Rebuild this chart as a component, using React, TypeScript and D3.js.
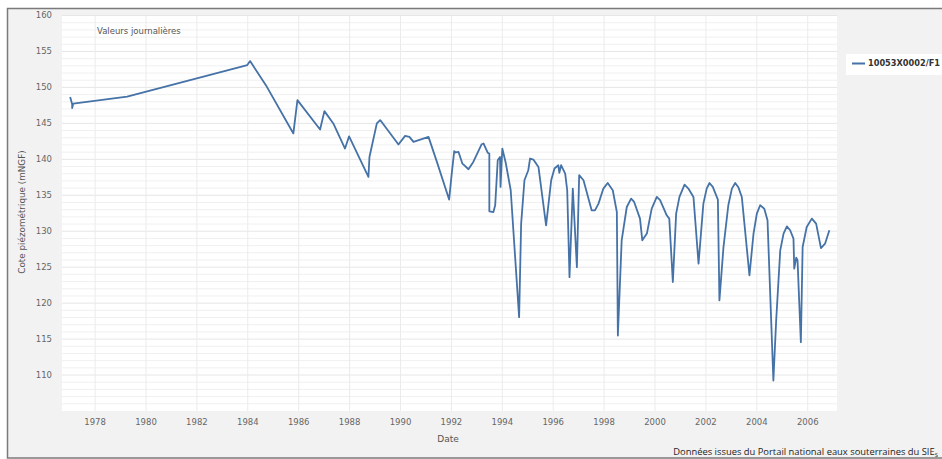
import React from "react";
import * as d3 from "d3";

// Decimal years and piezometric levels (mNGF)
const dates: number[] = [
  1977.02, 1977.10, 1977.10, 1977.14, 1979.26, 1983.98, 1984.09, 1984.75,
  1985.79, 1985.95, 1986.84, 1987.01, 1987.36, 1987.82, 1987.98, 1988.74,
  1988.78, 1989.07, 1989.20, 1989.26, 1989.92, 1990.18, 1990.35, 1990.51,
  1991.10, 1991.43, 1991.91, 1992.02, 1992.11, 1992.17, 1992.28, 1992.43,
  1992.50, 1992.67, 1992.86, 1993.19, 1993.26, 1993.43, 1993.49, 1993.49,
  1993.65, 1993.72, 1993.82, 1993.91, 1993.93, 1994.00, 1994.14, 1994.33,
  1994.66, 1994.74, 1994.87, 1995.02, 1995.09, 1995.22, 1995.42, 1995.72,
  1995.92, 1996.05, 1996.20, 1996.24, 1996.31, 1996.47, 1996.55, 1996.64,
  1996.77, 1996.93, 1997.02, 1997.19, 1997.51, 1997.64, 1997.78, 1997.97,
  1998.14, 1998.34, 1998.50, 1998.54, 1998.69, 1998.89, 1999.06, 1999.18,
  1999.41, 1999.50, 1999.68, 1999.87, 2000.07, 2000.20, 2000.46, 2000.56,
  2000.70, 2000.83, 2000.96, 2001.16, 2001.31, 2001.51, 2001.71, 2001.90,
  2002.03, 2002.14, 2002.27, 2002.47, 2002.53, 2002.69, 2002.88, 2003.02,
  2003.15, 2003.28, 2003.41, 2003.71, 2003.87, 2004.00, 2004.13, 2004.29,
  2004.42, 2004.65, 2004.76, 2004.92, 2005.05, 2005.18, 2005.31, 2005.44,
  2005.47, 2005.55, 2005.60, 2005.73, 2005.80, 2005.96, 2006.16, 2006.33,
  2006.52, 2006.68, 2006.85,
];

const levels: number[] = [
  148.65, 147.67, 147.12, 147.74, 148.72, 153.11, 153.66, 150.08,
  143.6, 148.23, 144.15, 146.7, 144.99, 141.5, 143.2, 137.55,
  140.33, 145.0, 145.45, 145.2, 142.06, 143.26, 143.12, 142.42,
  143.12, 139.64, 134.4, 138.25, 141.13, 140.95, 141.03, 139.41,
  139.18, 138.62, 139.64, 142.1, 142.2, 140.89, 140.81, 132.77,
  132.67, 133.6, 139.87, 140.33, 136.16, 141.5, 139.41, 135.7,
  118.05, 131.06, 137.09, 138.48, 140.11, 139.97, 138.94, 130.82,
  137.09, 138.72, 139.18, 138.11, 139.18, 138.02, 135.7, 123.62,
  135.93, 125.01, 137.79, 137.09, 132.91, 132.91, 133.84, 135.93,
  136.71, 135.7, 132.67, 115.5, 128.73, 133.37, 134.54, 134.07,
  131.75, 128.73, 129.67, 133.15, 134.77, 134.31, 132.22, 131.75,
  122.93, 132.45, 134.77, 136.49, 135.93, 134.77, 125.49, 133.84,
  135.93, 136.71, 136.16, 134.4, 120.38, 127.8, 133.61, 135.93,
  136.71, 136.07, 134.77, 123.86, 129.67, 132.45, 133.61, 133.15,
  131.52, 109.23, 117.59, 127.34, 129.67, 130.68, 130.13, 128.97,
  124.79, 126.32, 125.95, 114.57, 127.8, 130.59, 131.75, 131.05,
  127.66, 128.27, 130.13,
];

const xTicks: number[] = [1978, 1980, 1982, 1984, 1986, 1988, 1990, 1992, 1994, 1996, 1998, 2000, 2002, 2004, 2006];
const yTicks: number[] = [110, 115, 120, 125, 130, 135, 140, 145, 150, 155, 160];
const yMinorTicks: number[] = d3.range(106, 160, 1);

const seriesName = "10053X0002/F1";
const subtitle = "Valeurs journalières";
const yTitle = "Cote piézométrique (mNGF)";
const xTitle = "Date";
const credits = "Données issues du Portail national eaux souterraines du SIE";

export default function App() {
  const W = 942;
  const H = 459;
  const left = 62, right = 837, top = 15.5, bottom = 411;
  const x = d3.scaleLinear().domain([1976.70, 2007.15]).range([left, right]);
  const y = d3.scaleLinear().domain([105, 160]).range([bottom, top]);
  const pts = dates.map((d, i) => [d, levels[i]] as [number, number]);
  const line = d3.line<[number, number]>().x((d) => x(d[0])).y((d) => y(d[1]));
  const font = "'DejaVu Sans', sans-serif";

  return (
    <svg width={W} height={H} style={{ position: "absolute", left: 0, top: 0, display: "block" }}
      fontFamily={font}>
      <rect x={0} y={0} width={W} height={H} fill="#ffffff" />
      <rect x={7.5} y={8.5} width={W} height={449.5} fill="#f2f2f2" stroke="#7a7a7a" strokeWidth={1.5} />
      <rect x={left} y={top} width={right - left} height={bottom - top} fill="#ffffff" />
      {yMinorTicks.filter((t) => t % 5 !== 0).map((t) => (
        <line key={"m" + t} x1={left} x2={right} y1={y(t)} y2={y(t)} stroke="#f0f0f0" strokeWidth={1} />
      ))}
      {yTicks.map((t) => (
        <line key={"g" + t} x1={left} x2={right} y1={y(t)} y2={y(t)} stroke="#e6e6e6" strokeWidth={1} />
      ))}
      {xTicks.map((t) => (
        <line key={"v" + t} x1={x(t)} x2={x(t)} y1={top} y2={bottom} stroke="#ebebeb" strokeWidth={1} />
      ))}
      <path d={line(pts) || ""} fill="none" stroke="#4572a7" strokeWidth={1.8} strokeLinejoin="round" />
      {yTicks.map((t) => (
        <text key={"yl" + t} x={52} y={y(t)} dy="0.35em" textAnchor="end" fontSize={8.5} fill="#666">{t}</text>
      ))}
      {xTicks.map((t) => (
        <text key={"xl" + t} x={x(t)} y={422.5} dy="0.35em" textAnchor="middle" fontSize={8.5} fill="#666">{t}</text>
      ))}
      <text x={448} y={439} dy="0.35em" textAnchor="middle" fontSize={9} fill="#555">{xTitle}</text>
      <text transform={`translate(22,212) rotate(-90)`} textAnchor="middle" dy="0.35em" fontSize={8.8} fill="#555">{yTitle}</text>
      <text x={97} y={31} dy="0.35em" fontSize={8.5} fill="#555">{subtitle}</text>
      <rect x={846} y={54} width={W - 846} height={21} fill="#ffffff" />
      <line x1={852} x2={865} y1={63.5} y2={63.5} stroke="#4572a7" strokeWidth={2} />
      <text x={868} y={63.5} dy="0.35em" fontSize={8} fontWeight="bold" fill="#333"
        textLength={72} lengthAdjust="spacingAndGlyphs">{seriesName}</text>
      <text x={938} y={452} dy="0.35em" textAnchor="end" fontSize={9.4} fill="#222"
        fontFamily="'Open Sans', sans-serif">
        {credits}
        <tspan fontSize={6} dy="0.3em">S</tspan>
      </text>
    </svg>
  );
}
